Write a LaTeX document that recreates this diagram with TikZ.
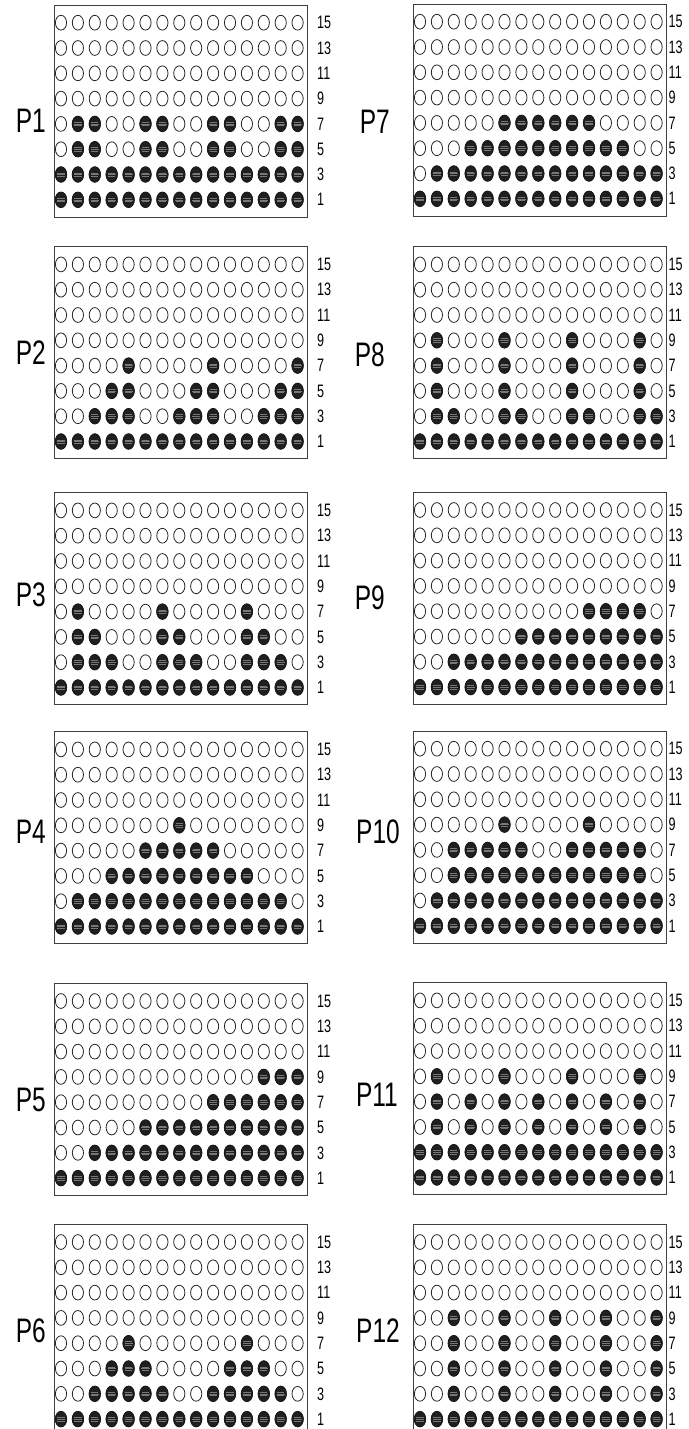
\documentclass[tikz,border=0pt]{standalone}
\usepackage{fontspec}
\setmainfont{Liberation Sans}
\usepackage{graphicx}
\tikzset{
  panelbox/.style={draw=black!75, line width=0.9pt, minimum width=253.5pt, minimum height=212pt, anchor=north west, inner sep=0pt, outer sep=0pt},
  opendot/.style={draw=black!85, line width=0.8pt, fill=white},
  fulldot/.style={draw=black!90, line width=0.8pt, fill=black!88},
  stripe/.style={draw=white, line width=0.45pt, opacity=0.4},
  rowlab/.style={anchor=west, inner sep=0pt, font=\fontsize{18}{18}\selectfont},
  plab/.style={anchor=east, inner sep=0pt, font=\fontsize{34}{34}\selectfont},
}
\newcommand\fillrow[4]{% #1 left, #2 top, #3 row index, #4 list of filled columns
  \foreach \c in {#4}{\ifnum\c>0
    \pgfmathsetmacro\xx{#1+7+(\c-1)*16.9}
    \pgfmathsetmacro\yy{#2+17.7+#3*25.3}
    \draw[fulldot] (\xx,\yy) ellipse[x radius=5.7, y radius=7.8];
    \draw[stripe] (\xx-3.6,\yy-1.7) -- (\xx+3.6,\yy-1.7)
                  (\xx-4.1,\yy) -- (\xx+4.1,\yy)
                  (\xx-3.6,\yy+1.7) -- (\xx+3.6,\yy+1.7);
  \fi}}
\newcommand\dotpanel[8]{% #1 name, #2 left, #3 top, #4 row label offset, #5..#8 rows 9,7,5,3
  \node[panelbox] (#1) at (#2,#3) {};
  \foreach \r/\n in {0/15,1/13,2/11,3/9,4/7,5/5,6/3,7/1}{
    \pgfmathsetmacro\yy{#3+17.7+\r*25.3}
    \foreach \c in {1,...,15}{
      \draw[opendot] ({#2+7+(\c-1)*16.9},\yy) ellipse[x radius=5.6, y radius=7.4];
    }
    \node[rowlab] (#1-r\n) at ({#2+#4},\yy) {\scalebox{0.7}[1]{\n}};
  }
  \fillrow{#2}{#3}{3}{#5}
  \fillrow{#2}{#3}{4}{#6}
  \fillrow{#2}{#3}{5}{#7}
  \fillrow{#2}{#3}{6}{#8}
  \fillrow{#2}{#3}{7}{1,...,15}
}
\begin{document}
\begin{tikzpicture}[x=1pt,y=-1pt]
\clip (0,0) rectangle (688,1429);
% left column
\dotpanel{p1}{54}{5}{263}{0}{2,3,6,7,10,11,14,15}{2,3,6,7,10,11,14,15}{1,...,15}
\dotpanel{p2}{54}{246.7}{263}{0}{5,10,15}{4,5,9,10,14,15}{3,4,5,8,9,10,13,14,15}
\dotpanel{p3}{54}{492.7}{263}{0}{2,7,12}{2,3,7,8,12,13}{2,3,4,7,8,9,12,13,14}
\dotpanel{p4}{54}{731.7}{263}{8}{6,...,10}{4,...,12}{2,...,14}
\dotpanel{p5}{54}{983.3}{263}{13,14,15}{10,...,15}{6,...,15}{3,...,15}
\dotpanel{p6}{54}{1224.3}{263}{0}{5,12}{4,5,6,11,12,13}{3,4,5,6,7,10,11,12,13,14}
% right column
\dotpanel{p7}{413}{4}{255.5}{0}{6,...,11}{4,...,13}{2,...,15}
\dotpanel{p8}{413}{246.7}{255.5}{2,6,10,14}{2,6,10,14}{2,6,10,14}{2,3,6,7,10,11,14,15}
\dotpanel{p9}{413}{492.3}{255.5}{0}{11,12,13,14}{7,...,15}{3,...,15}
\dotpanel{p10}{413}{731}{255.5}{6,11}{3,4,5,6,7,10,11,12,13,14}{3,...,14}{2,...,15}
\dotpanel{p11}{413}{982.7}{255.5}{2,6,10,14}{2,4,6,8,10,12,14}{2,4,6,8,10,12,14}{1,...,15}
\dotpanel{p12}{413}{1224.3}{255.5}{3,6,9,12,15}{3,6,9,12,15}{3,6,9,12,15}{3,6,9,12,15}
% panel labels
\node[plab] (p1lab) at (46,121) {\scalebox{0.72}[1]{P1}};
\node[plab] (p2lab) at (46,353) {\scalebox{0.72}[1]{P2}};
\node[plab] (p3lab) at (46,595) {\scalebox{0.72}[1]{P3}};
\node[plab] (p4lab) at (46,832) {\scalebox{0.72}[1]{P4}};
\node[plab] (p5lab) at (46,1100) {\scalebox{0.72}[1]{P5}};
\node[plab] (p6lab) at (46,1331) {\scalebox{0.72}[1]{P6}};
\node[plab] (p7lab) at (390,122) {\scalebox{0.72}[1]{P7}};
\node[plab] (p8lab) at (385,355) {\scalebox{0.72}[1]{P8}};
\node[plab] (p9lab) at (385,598) {\scalebox{0.72}[1]{P9}};
\node[plab] (p10lab) at (400,832) {\scalebox{0.72}[1]{P10}};
\node[plab] (p11lab) at (398,1095) {\scalebox{0.72}[1]{P11}};
\node[plab] (p12lab) at (400,1331) {\scalebox{0.72}[1]{P12}};
\end{tikzpicture}
\end{document}
